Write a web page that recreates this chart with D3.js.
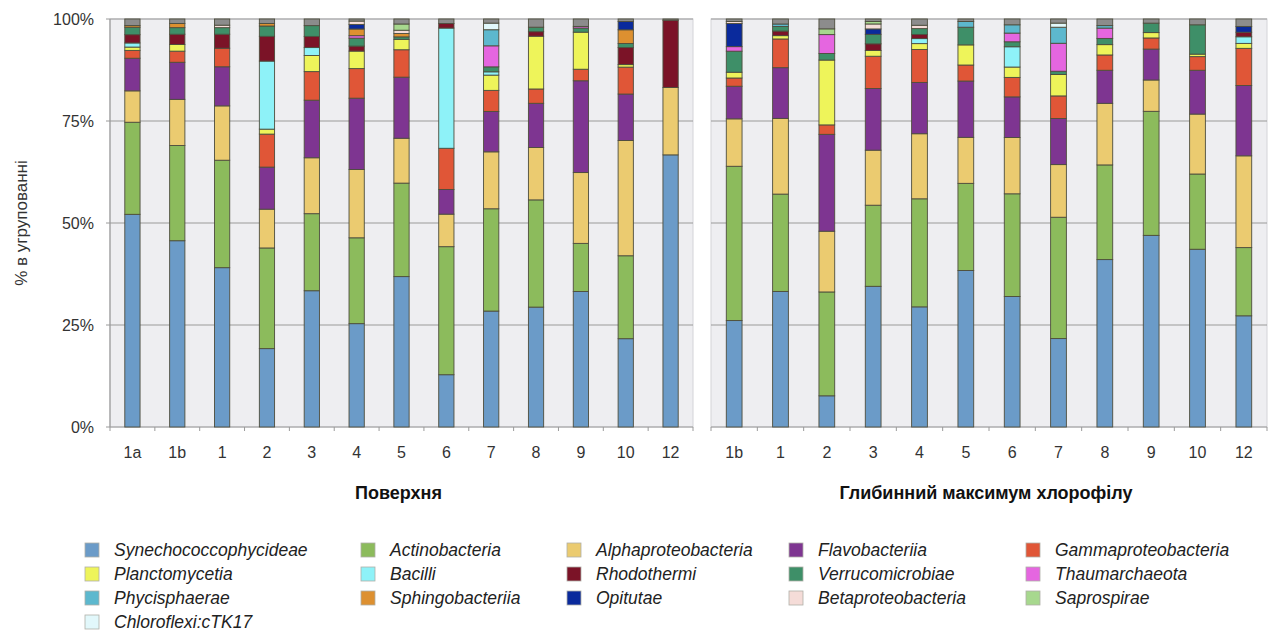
<!DOCTYPE html>
<html>
<head>
<meta charset="utf-8">
<script src="https://cdn.jsdelivr.net/npm/d3@7"></script>
<style>
  body { margin: 0; background: #fff; }
  svg { display: block; font-family: "Liberation Sans", Arial, sans-serif; }
</style>
</head>
<body>
<svg id="chart" width="1274" height="632"></svg>
<script>
// sites of the two panels
const surfaceSites = ["1a", "1b", "1", "2", "3", "4", "5", "6", "7", "8", "9", "10", "12"];
const dcmSites = ["1b", "1", "2", "3", "4", "5", "6", "7", "8", "9", "10", "12"];

const taxa = [
  "Synechococcophycideae", "Actinobacteria", "Alphaproteobacteria", "Flavobacteriia", "Gammaproteobacteria",
  "Planctomycetia", "Bacilli", "Rhodothermi", "Verrucomicrobiae", "Thaumarchaeota",
  "Phycisphaerae", "Sphingobacteriia", "Opitutae", "Betaproteobacteria", "Saprospirae",
  "Chloroflexi:cTK17"
];
const taxaColors = [
  "#6b9bc8", "#8cbb5c", "#ebcb70", "#7e3591", "#e05637",
  "#eef45a", "#8ef2f8", "#7b1327", "#3e8f68", "#e566e0",
  "#5db8ce", "#dd9030", "#0a2a9c", "#f5dcd8", "#a7d88e",
  "#e2f8fb"
];
const otherColor = "#8c8c8c";

// % values, surface (1a ... 12)
const synSurf = [51.5, 45.2, 38.7, 19.0, 32.9, 24.8, 36.2, 12.7, 28.1, 29.3, 32.9, 21.3, 66.7];
const actSurf = [22.3, 23.1, 26.1, 24.4, 18.6, 20.6, 22.5, 31.1, 24.8, 26.2, 11.7, 20.0, 0];
const alpSurf = [7.6, 11.2, 13.2, 9.4, 13.5, 16.4, 10.8, 7.9, 13.8, 12.8, 17.2, 27.8, 16.5];
const flaSurf = [7.9, 9.0, 9.5, 10.2, 13.9, 17.1, 14.7, 6.0, 9.8, 10.8, 22.3, 11.2, 0];
const gamSurf = [1.9, 2.7, 4.5, 8.0, 6.9, 7.1, 6.6, 10.0, 5.1, 3.5, 2.8, 6.5, 0];
const plaSurf = [0.8, 1.6, 0, 1.2, 3.9, 4.2, 2.5, 0, 3.7, 12.9, 9.0, 0.6, 0];
const bacSurf = [1.0, 0, 0, 16.5, 1.9, 0, 0, 29.2, 0.8, 0, 0, 0, 0];
const rhoSurf = [2.0, 2.5, 3.4, 6.0, 2.7, 1.2, 0, 1.1, 0, 1.1, 0, 4.1, 16.5];
const verSurf = [1.8, 1.6, 1.6, 2.5, 2.6, 1.9, 0.6, 0, 1.2, 1.1, 1.0, 1.0, 0];
const thaSurf = [0, 0, 0, 0, 0, 0.6, 0, 0, 5.1, 0, 0.4, 0, 0];
const phySurf = [0, 0, 0, 0, 0, 0, 0, 0, 3.9, 0, 0, 0, 0];
const sphSurf = [0.4, 1.0, 0, 0.6, 0, 1.6, 0.8, 0, 0, 0, 0, 3.3, 0];
const opiSurf = [0, 0, 0, 0, 0, 1.1, 0, 0, 0, 0, 0, 2.0, 0];
const betSurf = [0, 0, 0.6, 0, 0, 0.8, 0.8, 0, 0, 0, 0, 0, 0];
const sapSurf = [0, 0, 0, 0, 0, 0, 1.5, 0, 0, 0, 0, 0, 0];
const chlSurf = [0, 0, 0, 0, 0, 0, 0, 0, 1.6, 0, 0, 0, 0];
const othSurf = [1.6, 1.1, 1.5, 1.1, 1.6, 0.5, 1.2, 1.1, 1.0, 2.0, 1.8, 0.6, 0.3];

// % values, chlorophyll maximum (1b ... 12)
const synDcm = [25.8, 32.6, 7.6, 34.0, 28.8, 38.1, 31.5, 21.5, 40.5, 46.5, 43.0, 26.9];
const actDcm = [37.4, 23.4, 25.3, 19.6, 25.9, 21.2, 24.8, 29.5, 22.9, 30.1, 18.2, 16.5];
const alpDcm = [11.5, 18.2, 14.8, 13.3, 15.6, 11.2, 13.6, 12.8, 14.9, 7.6, 14.5, 22.2];
const flaDcm = [7.9, 12.2, 23.6, 14.9, 12.3, 13.7, 9.8, 11.2, 8.0, 7.5, 10.6, 17.0];
const gamDcm = [2.0, 6.9, 2.3, 7.8, 7.9, 3.9, 4.7, 5.5, 3.7, 2.7, 3.3, 9.0];
const plaDcm = [1.4, 0.8, 15.8, 1.4, 1.4, 4.9, 2.5, 5.2, 2.5, 1.3, 0.6, 1.2];
const bacDcm = [0, 0, 0, 0, 1.2, 0, 4.9, 0, 0, 0, 0, 1.6];
const rhoDcm = [0, 1.1, 0, 1.6, 1.0, 0, 0, 0, 0, 0, 0, 1.1];
const verDcm = [5.1, 1.1, 1.6, 2.3, 1.4, 4.3, 1.2, 0.8, 1.5, 2.3, 7.1, 0];
const thaDcm = [1.1, 0, 4.6, 0, 0, 0, 2.1, 6.8, 2.5, 0, 0, 0];
const phyDcm = [0, 0.6, 0, 0, 0, 1.4, 2.0, 3.9, 0.6, 0, 0, 0];
const sphDcm = [0, 0, 0, 0, 0, 0, 0, 0, 0, 0, 0, 0];
const opiDcm = [5.6, 0, 0, 1.3, 0, 0, 0, 0, 0, 0, 0, 1.4];
const betDcm = [0.5, 0, 0, 1.2, 0.8, 0, 0, 0, 0, 0, 0, 0];
const sapDcm = [0, 0, 1.4, 0.6, 0, 0, 0, 0, 0, 0, 0, 0];
const chlDcm = [0, 0, 0, 0, 0, 0, 0, 1.0, 0, 0, 0, 0];
const othDcm = [0.6, 1.2, 2.4, 0.6, 1.5, 0.6, 1.4, 1.0, 1.6, 1.0, 1.4, 1.8];

const yTicks = [0, 0.25, 0.5, 0.75, 1];

const surfSeries = [synSurf, actSurf, alpSurf, flaSurf, gamSurf, plaSurf, bacSurf, rhoSurf,
  verSurf, thaSurf, phySurf, sphSurf, opiSurf, betSurf, sapSurf, chlSurf, othSurf];
const dcmSeries = [synDcm, actDcm, alpDcm, flaDcm, gamDcm, plaDcm, bacDcm, rhoDcm,
  verDcm, thaDcm, phyDcm, sphDcm, opiDcm, betDcm, sapDcm, chlDcm, othDcm];

const keys = taxa.concat(["other"]);
const color = d3.scaleOrdinal().domain(keys).range(taxaColors.concat([otherColor]));

const svg = d3.select("#chart");
const y = d3.scaleLinear().domain([0, 1]).range([427, 19]);

function buildRows(sites, series) {
  return sites.map(function (s, i) {
    const row = { site: s };
    keys.forEach(function (k, j) { row[k] = series[j][i]; });
    return row;
  });
}

function drawPanel(sites, series, x0, x1, title, withAxis) {
  const x = d3.scaleBand().domain(sites).range([x0, x1]).paddingInner(0.66).paddingOuter(0.33);
  const g = svg.append("g");

  // plot background
  g.append("rect")
    .attr("x", x0).attr("y", y(1))
    .attr("width", x1 - x0).attr("height", y(0) - y(1))
    .attr("fill", "#eeeef1")
    .attr("stroke", "#d4d4d8");

  // horizontal gridlines
  g.selectAll(".grid").data(yTicks.slice(1)).enter()
    .append("line")
    .attr("x1", x0).attr("x2", x1)
    .attr("y1", function (d) { return y(d); })
    .attr("y2", function (d) { return y(d); })
    .attr("stroke", "#9a9a9a").attr("stroke-width", 1.2);

  // bottom axis line and ticks between bars
  g.append("line")
    .attr("x1", x0).attr("x2", x1).attr("y1", y(0)).attr("y2", y(0))
    .attr("stroke", "#9a9a9a").attr("stroke-width", 1.2);
  const step = x.step();
  g.selectAll(".xtick").data(d3.range(sites.length + 1)).enter()
    .append("line")
    .attr("x1", function (i) { return x0 + i * step; })
    .attr("x2", function (i) { return x0 + i * step; })
    .attr("y1", y(0)).attr("y2", y(0) + 4)
    .attr("stroke", "#9a9a9a");

  if (withAxis) {
    g.append("line")
      .attr("x1", x0).attr("x2", x0).attr("y1", y(0)).attr("y2", y(1))
      .attr("stroke", "#9a9a9a").attr("stroke-width", 1.2);
    g.selectAll(".ytick").data(yTicks).enter()
      .append("line")
      .attr("x1", x0 - 4).attr("x2", x0)
      .attr("y1", function (d) { return y(d); })
      .attr("y2", function (d) { return y(d); })
      .attr("stroke", "#9a9a9a");
    g.selectAll(".ylab").data(yTicks).enter()
      .append("text")
      .text(d3.format(".0%"))
      .attr("x", x0 - 16)
      .attr("y", function (d) { return y(d); })
      .attr("dy", "0.36em")
      .attr("text-anchor", "end")
      .attr("font-size", "16px")
      .attr("fill", "#333");
  }

  // stacked bars
  const stack = d3.stack().keys(keys).offset(d3.stackOffsetExpand);
  const layers = stack(buildRows(sites, series));
  g.selectAll(".layer").data(layers).enter()
    .append("g")
    .attr("fill", function (d) { return color(d.key); })
    .selectAll("rect")
    .data(function (d) { return d.filter(function (p) { return p[1] - p[0] > 0; }); })
    .enter()
    .append("rect")
    .attr("x", function (d) { return x(d.data.site); })
    .attr("width", x.bandwidth())
    .attr("y", function (d) { return y(d[1]); })
    .attr("height", function (d) { return y(d[0]) - y(d[1]); })
    .attr("stroke", "#4d4d3d")
    .attr("stroke-width", 0.9);

  // site labels
  g.selectAll(".xlab").data(sites).enter()
    .append("text")
    .text(function (d) { return d; })
    .attr("x", function (d) { return x(d) + x.bandwidth() / 2; })
    .attr("y", 458)
    .attr("text-anchor", "middle")
    .attr("font-size", "16px")
    .attr("fill", "#333");

  g.append("text")
    .text(title)
    .attr("x", (x0 + x1) / 2 - 3)
    .attr("y", 499)
    .attr("text-anchor", "middle")
    .attr("font-size", "18px")
    .attr("font-weight", "bold")
    .attr("fill", "#111");
}

drawPanel(surfaceSites, surfSeries, 110, 693, "Поверхня", true);
drawPanel(dcmSites, dcmSeries, 711, 1267, "Глибинний максимум хлорофілу", false);

// y axis title
svg.append("text")
  .text("% в угрупованні")
  .attr("transform", "translate(27,223) rotate(-90)")
  .attr("text-anchor", "middle")
  .attr("font-size", "17px")
  .attr("fill", "#333");

// legend, five columns filled row by row
const legendCols = [85, 361, 567, 789, 1026];
const legendRows = [550, 574, 598, 622];
const legend = svg.append("g");
const items = legend.selectAll(".item").data(taxa).enter()
  .append("g")
  .attr("transform", function (d, i) {
    return "translate(" + legendCols[i % 5] + "," + legendRows[Math.floor(i / 5)] + ")";
  });
items.append("rect")
  .attr("x", 0).attr("y", -7)
  .attr("width", 14).attr("height", 14)
  .attr("fill", function (d) { return color(d); })
  .attr("stroke", "#b0b0a8").attr("stroke-width", 0.8);
items.append("text")
  .text(function (d) { return d; })
  .attr("x", 29)
  .attr("dy", "0.36em")
  .attr("font-size", "17.5px")
  .attr("font-style", "italic")
  .attr("fill", "#222");
</script>
</body>
</html>
